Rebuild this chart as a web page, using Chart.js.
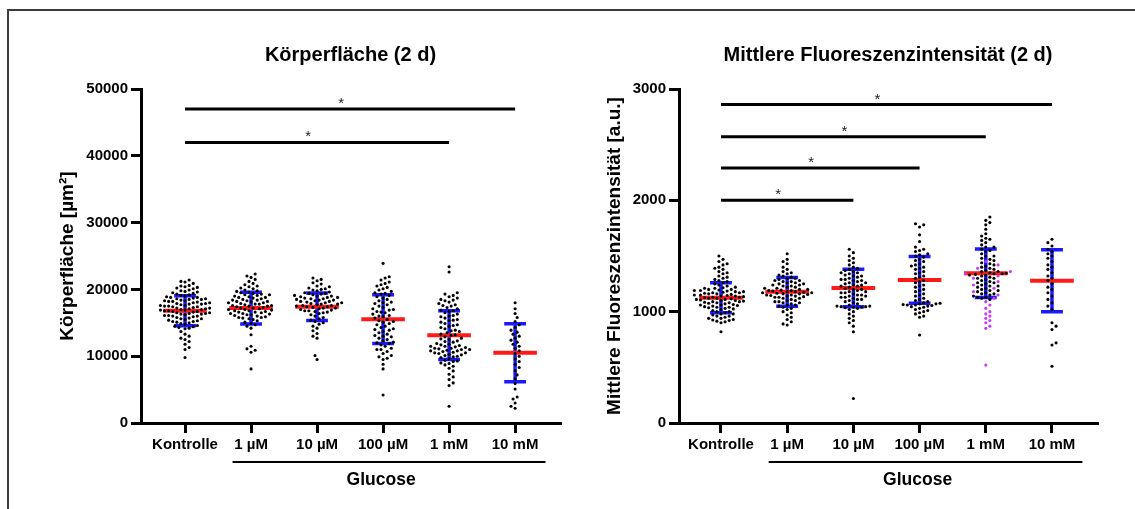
<!DOCTYPE html>
<html>
<head>
<meta charset="utf-8">
<title>Körperfläche / Fluoreszenz (2 d)</title>
<script src="https://cdn.jsdelivr.net/npm/chart.js"></script>
<style>
  body { margin: 0; background: #fff; width: 1135px; height: 509px; overflow: hidden; position: relative; }
  .frame { position: absolute; left: 7px; top: 9px; width: 1300px; height: 700px;
           border-top: 2px solid #3c3c3c; border-left: 2px solid #3c3c3c; }
  canvas { position: absolute; top: 0; }
</style>
</head>
<body>
<div class="frame"></div>
<canvas id="left" width="567" height="509" style="left:0"></canvas>
<canvas id="right" width="568" height="509" style="left:567px"></canvas>
<script>
// categories
const groups = ['Kontrolle', '1 µM', '10 µM', '100 µM', '1 mM', '10 mM'];

// Körperfläche [µm²], single animals per group
const area0 = [21400, 21200, 21100, 20900, 20600, 20500, 20400, 20300, 20200, 20100,
  19900, 19800, 19700, 19600, 19500, 19400, 19300, 19200, 19100, 19000,
  18900, 18800, 18800, 18700, 18600, 18500, 18500, 18400, 18300, 18200, 18200, 18100, 18000, 18000,
  17900, 17800, 17800, 17700, 17600, 17600, 17500, 17400, 17400, 17300, 17200, 17200, 17100, 17000, 17000,
  16900, 16900, 16800, 16700, 16700, 16600, 16500, 16500, 16400, 16300, 16300, 16200, 16100, 16100, 16000,
  15900, 15800, 15700, 15600, 15500, 15400, 15300, 15200, 15100, 15000,
  14900, 14800, 14600, 14500, 14400, 14300, 14200, 14100,
  13700, 13300, 13000, 12700, 12500, 12200, 11800, 11300, 11000, 9800,
  18600, 18300, 17900, 17500, 17100, 16800, 16400, 16000, 15600, 15200];
const area1 = [22300, 22000, 21800, 21500, 21200, 20900, 20700, 20500, 20400, 20200, 20100,
  19900, 19800, 19700, 19600, 19500, 19400, 19300, 19200, 19100, 19000,
  18900, 18800, 18700, 18600, 18500, 18400, 18300, 18200, 18100, 18000,
  17900, 17800, 17700, 17600, 17500, 17400, 17300, 17200, 17100, 17000,
  16900, 16800, 16700, 16600, 16500, 16400, 16300, 16200, 16100, 16000,
  15900, 15800, 15700, 15600, 15500, 15300, 15100, 14900, 14700, 14500,
  14200, 13200, 11500, 11100, 10900, 10600, 8100,
  18800, 18400, 18000, 17800, 17500, 17200, 17000, 16800, 16600, 16400, 16200, 15800, 17600, 18200, 19200];
const area2 = [21700, 21500, 21300, 21000, 20800, 20500, 20400, 20200, 20100, 20000,
  19900, 19800, 19600, 19500, 19400, 19300, 19200, 19100, 19000,
  18900, 18800, 18700, 18600, 18500, 18400, 18300, 18200, 18100, 18000, 18000,
  17900, 17800, 17700, 17600, 17500, 17400, 17300, 17200, 17100, 17000,
  16900, 16800, 16700, 16600, 16500, 16400, 16200, 16000,
  15800, 15600, 15400, 15200, 15000, 14800, 14500, 14200, 13800, 13400, 13000, 12700,
  10100, 9500,
  18800, 18600, 18400, 18200, 17800, 17600, 17400, 17200, 16800, 19000, 19400];
const area3 = [23900, 21900, 21700, 21400, 21100, 20900, 20700, 20500, 20300, 20100,
  19900, 19700, 19500, 19300, 19100, 18900, 18700, 18500, 18300, 18100,
  17900, 17700, 17500, 17300, 17100, 16900, 16700, 16500, 16300, 16100,
  15900, 15700, 15500, 15300, 15100, 14900, 14700, 14500, 14300, 14100,
  13900, 13700, 13500, 13300, 13100, 12900, 12700, 12500, 12300, 12100,
  11900, 11700, 11500, 11200, 11000, 10700, 10400, 10100, 9900, 9700,
  9500, 8800, 8100, 4200,
  19400, 18000, 17000, 16000, 15200, 14000, 13000, 12000, 11000, 16600];
const area4 = [23400, 22600, 19500, 19300, 19100, 18900, 18700, 18500, 18300, 18100,
  17900, 17700, 17500, 17300, 17100, 16900, 16700, 16500, 16300, 16100,
  15900, 15700, 15500, 15300, 15100, 14900, 14700, 14500, 14300, 14100,
  13900, 13700, 13500, 13300, 13100, 12900, 12700, 12500, 12300, 12100,
  11900, 11800, 11700, 11600, 11500, 11400, 11300, 11200, 11100, 11000,
  10900, 10800, 10700, 10600, 10500, 10400, 10300, 10200, 10100, 10000,
  9800, 9600, 9400, 9200, 9000, 8900, 8700, 8500, 8200, 7800,
  7300, 6900, 6500, 6000, 5600, 2500,
  18400, 17600, 16800, 16000, 15400, 14600, 13800, 13200, 12600, 12200, 11500, 11200, 11000, 10800, 10500, 9900, 9300];
const area5 = [18000, 17100, 16400, 15800, 15200, 14700, 14300, 13900, 13600, 13300, 13000, 12700,
  12400, 12100, 11800, 11500, 11200, 10800, 10400, 10000, 9600, 9200, 8800, 8300, 7800, 7200,
  6600, 5900, 5100, 3900, 3600, 3000, 2500, 2200];
const areaMean = [16800, 17200, 17400, 15550, 13150, 10500];
const areaSD = [2250, 2370, 2050, 3650, 3660, 4340];
const areaTicks = [0, 10000, 20000, 30000, 40000, 50000];
// significance bars: [from group, to group, height]
const areaSig = [[0, 5, 47000], [0, 4, 42000]];

// Mittlere Fluoreszenzintensität [a.u.]
const fluo0 = [1500, 1470, 1450, 1430, 1420, 1400, 1390, 1380, 1360, 1350, 1340, 1320, 1310, 1300,
  1290, 1280, 1270, 1260, 1250, 1240, 1230, 1220, 1215, 1210, 1200, 1195, 1190, 1185, 1180, 1175,
  1170, 1165, 1160, 1155, 1150, 1145, 1140, 1135, 1130, 1125, 1120, 1115, 1110, 1105, 1100, 1095,
  1090, 1085, 1080, 1075, 1070, 1065, 1060, 1055, 1050, 1045, 1040, 1035, 1030, 1025, 1020, 1010,
  1000, 990, 980, 970, 960, 950, 940, 930, 920, 910, 900, 820,
  1200, 1180, 1160, 1140, 1130, 1120, 1110, 1100, 1090, 1080, 1060, 1040, 1150, 1170, 1190, 1210,
  1000, 980, 960, 940, 925, 915];
const fluo1 = [1520, 1470, 1450, 1430, 1400, 1380, 1360, 1350, 1340, 1330, 1320, 1310, 1300,
  1290, 1280, 1270, 1260, 1250, 1240, 1230, 1220, 1210, 1200, 1195, 1190, 1185, 1180, 1175, 1170,
  1165, 1160, 1155, 1150, 1145, 1140, 1135, 1130, 1120, 1110, 1100, 1090, 1080, 1070, 1060, 1050,
  1040, 1030, 1020, 1000, 990, 970, 950, 930, 910, 890, 880,
  1300, 1280, 1260, 1240, 1220, 1200, 1180, 1160, 1140, 1120, 1100, 1080, 1060, 1250, 1150, 1190,
  1210, 1230, 1170, 1130, 1270, 1090];
const fluo2 = [1560, 1530, 1500, 1480, 1460, 1440, 1420, 1400, 1390, 1380, 1370, 1360, 1350, 1340,
  1330, 1320, 1310, 1300, 1290, 1280, 1270, 1260, 1250, 1240, 1230, 1220, 1210, 1200, 1190, 1180,
  1170, 1160, 1150, 1140, 1130, 1120, 1110, 1100, 1090, 1080, 1070, 1060, 1050, 1045, 1040, 1040,
  1030, 1020, 1000, 980, 960, 940, 920, 900, 870, 820, 220,
  1350, 1320, 1290, 1260, 1230, 1200, 1170, 1150, 1130, 1110, 1280, 1240, 1180, 1140, 1050, 1045, 1035];
const fluo3 = [1790, 1780, 1760, 1690, 1630, 1580, 1560, 1540, 1520, 1500, 1490, 1470, 1450, 1430,
  1410, 1400, 1380, 1360, 1340, 1320, 1300, 1280, 1260, 1240, 1220, 1200, 1180, 1160, 1140, 1120,
  1100, 1090, 1080, 1070, 1065, 1060, 1055, 1050, 1040, 1020, 1000, 980, 960, 950, 790,
  1550, 1510, 1460, 1420, 1390, 1350, 1310, 1270, 1230, 1190, 1150, 1110, 1075, 1070, 1060, 1045,
  1030, 1010, 990];
const fluo4 = [1850, 1820, 1800, 1780, 1740, 1700, 1680, 1660, 1640, 1620, 1600, 1580, 1560, 1540,
  1520, 1500, 1480, 1460, 1440, 1420, 1400, 1390, 1380, 1370, 1360, 1350, 1345, 1340, 1335, 1330,
  1320, 1310, 1300, 1290, 1280, 1270, 1260, 1250, 1240, 1230, 1220, 1210, 1200, 1190, 1180, 1170,
  1160, 1150, 1140, 1130, 1120, 1110,
  1650, 1580, 1550, 1500, 1470, 1430, 1410, 1360, 1340, 1330, 1300, 1260, 1230, 1190, 1160, 1130];
// 1 mM animals shown in violet
const fluo4Violet = [1450, 1420, 1390, 1360, 1340, 1320, 1300, 1270, 1240, 1210, 1180, 1150, 1120,
  1090, 1060, 1030, 1000, 980, 960, 940, 920, 900, 870, 850, 520];
const fluo5 = [1650, 1620, 1590, 1560, 1540, 1520, 1500, 1480, 1450, 1420, 1400, 1380, 1350, 1320,
  1300, 1280, 1250, 1220, 1200, 1170, 1140, 1110, 1080, 1050, 1020, 900, 870, 840, 720, 700, 510];
const fluoMean = [1125, 1178, 1212, 1285, 1345, 1278];
const fluoSD = [135, 130, 168, 210, 218, 278];
const fluoTicks = [0, 1000, 2000, 3000];
const fluoSig = [[0, 5, 2860], [0, 4, 2570], [0, 3, 2290], [0, 2, 2000]];

const FONT = '"Liberation Sans", Arial, sans-serif';
Chart.defaults.font.family = FONT;

// simple beeswarm: horizontal offsets in px so dots do not overlap
function swarm(vals, unitPx, d) {
  const idx = vals.map((_, i) => i).sort((a, b) => vals[a] - vals[b]);
  const placed = [];
  const out = [];
  let flip = 1;
  for (const i of idx) {
    const py = vals[i] * unitPx;
    const near = placed.filter(p => Math.abs(p[1] - py) < d);
    let x = 0;
    for (let k = 0; k < 200; k++) {
      const c = k === 0 ? 0 : Math.ceil(k / 2) * d * 0.5 * (k % 2 ? flip : -flip);
      if (near.every(p => (p[0] - c) ** 2 + (p[1] - py) ** 2 >= d * d)) { x = c; break; }
    }
    flip = -flip;
    placed.push([x, py]);
    out[i] = x;
  }
  return out;
}

function dotsFor(i, vals, off, xPx) {
  return vals.map((v, j) => ({ x: i + off[j] / xPx, y: v }));
}

function meanLines(means) {
  const pts = [];
  means.forEach((m, i) => {
    pts.push({ x: i - 0.33, y: m }, { x: i + 0.33, y: m }, { x: i, y: null });
  });
  return pts;
}

function sdBars(means, sds) {
  const pts = [];
  const w = 0.165;
  means.forEach((m, i) => {
    const lo = m - sds[i], hi = m + sds[i];
    pts.push({ x: i, y: lo }, { x: i, y: hi }, { x: i, y: null });
    pts.push({ x: i - w, y: hi }, { x: i + w, y: hi }, { x: i, y: null });
    pts.push({ x: i - w, y: lo }, { x: i + w, y: lo }, { x: i, y: null });
  });
  return pts;
}

function sigLines(sig) {
  const pts = [];
  sig.forEach(s => pts.push({ x: s[0], y: s[2] }, { x: s[1], y: s[2] }, { x: s[0], y: null }));
  return pts;
}

// titles, stars and the Glucose bracket
const decor = {
  id: 'decor',
  afterDraw(chart, args, o) {
    const { ctx, chartArea: a, scales: { x, y } } = chart;
    ctx.save();
    ctx.fillStyle = '#000';
    ctx.textAlign = 'center';
    ctx.textBaseline = 'alphabetic';
    ctx.font = 'bold 20px ' + FONT;
    ctx.fillText(o.title, (a.left + a.right) / 2, 61);

    ctx.save();
    ctx.translate(o.yTitleX, (a.top + a.bottom) / 2);
    ctx.rotate(-Math.PI / 2);
    ctx.textBaseline = 'middle';
    ctx.font = 'bold 19px ' + FONT;
    ctx.fillText(o.yTitle, 0, 0);
    ctx.restore();

    ctx.font = '15px ' + FONT;
    ctx.fillStyle = '#222';
    o.sig.forEach(s => {
      const cx = (x.getPixelForValue(s[0]) + x.getPixelForValue(s[1])) / 2 - 9;
      ctx.fillText('*', cx, y.getPixelForValue(s[2]) - 1);
    });

    ctx.strokeStyle = '#000';
    ctx.lineWidth = 2;
    const gy = a.bottom + 39;
    ctx.beginPath();
    ctx.moveTo(x.getPixelForValue(0.72), gy);
    ctx.lineTo(x.getPixelForValue(5.46), gy);
    ctx.stroke();
    ctx.fillStyle = '#000';
    ctx.textBaseline = 'middle';
    ctx.font = 'bold 17.5px ' + FONT;
    ctx.fillText('Glucose', x.getPixelForValue(2.97), a.bottom + 57);
    ctx.restore();
  }
};

function makeChart(id, cfg) {
  const xPx = cfg.plotW / (cfg.xMax - cfg.xMin);
  const unitPx = 334 / cfg.yMax;
  const datasets = [];
  cfg.dots.forEach((vals, i) => {
    const extra = cfg.violet && cfg.violet.group === i ? cfg.violet.vals : [];
    const off = swarm(vals.concat(extra), unitPx, 4.1);
    datasets.push({
      type: 'scatter', data: dotsFor(i, vals, off.slice(0, vals.length), xPx),
      pointRadius: 1.55, pointBorderWidth: 0, pointBackgroundColor: '#000', order: 0
    });
    if (extra.length) {
      datasets.push({
        type: 'scatter', data: dotsFor(i, extra, off.slice(vals.length), xPx),
        pointRadius: 1.55, pointBorderWidth: 0, pointBackgroundColor: '#c83cf0', order: 0
      });
    }
  });
  datasets.push({
    type: 'line', data: meanLines(cfg.mean), borderColor: '#ff1a1a', borderWidth: 4,
    pointRadius: 0, spanGaps: false, order: 1
  });
  datasets.push({
    type: 'line', data: sdBars(cfg.mean, cfg.sd), borderColor: '#1a1aff', borderWidth: 3.5,
    pointRadius: 0, spanGaps: false, order: 2
  });
  datasets.push({
    type: 'line', data: sigLines(cfg.sig), borderColor: '#000', borderWidth: 3,
    pointRadius: 0, spanGaps: false, order: 3
  });

  return new Chart(document.getElementById(id), {
    type: 'scatter',
    data: { datasets },
    options: {
      responsive: false,
      animation: false,
      layout: { padding: { left: 0, top: 89, right: cfg.padRight, bottom: 26 } },
      plugins: {
        legend: { display: false },
        tooltip: { enabled: false },
        decor: { title: cfg.title, yTitle: cfg.yTitle, yTitleX: cfg.yTitleX, sig: cfg.sig }
      },
      scales: {
        x: {
          type: 'linear', min: cfg.xMin, max: cfg.xMax,
          afterFit: s => { s.height = 60; },
          afterBuildTicks: s => { s.ticks = groups.map((g, i) => ({ value: i })); },
          ticks: {
            callback: v => groups[v], color: '#000', padding: 3, maxRotation: 0, autoSkip: false,
            font: { size: 15, weight: 'bold' }
          },
          grid: { display: true, drawOnChartArea: false, drawTicks: true, tickLength: 10,
                  tickWidth: 3, tickColor: '#000', lineWidth: 3, color: '#000' },
          border: { display: true, color: '#000', width: 3 }
        },
        y: {
          type: 'linear', min: 0, max: cfg.yMax,
          afterFit: s => { s.width = cfg.yWidth; },
          afterBuildTicks: s => { s.ticks = cfg.yTicks.map(v => ({ value: v })); },
          ticks: {
            callback: v => String(v), color: '#000', padding: 3,
            font: { size: 15, weight: 'bold' }
          },
          grid: { display: true, drawOnChartArea: false, drawTicks: true, tickLength: 10,
                  tickWidth: 3, tickColor: '#000', lineWidth: 3, color: '#000' },
          border: { display: true, color: '#000', width: 3 }
        }
      }
    },
    plugins: [decor]
  });
}

makeChart('left', {
  title: 'Körperfläche (2 d)', yTitle: 'Körperfläche [µm²]', yTitleX: 68,
  dots: [area0, area1, area2, area3, area4, area5],
  mean: areaMean, sd: areaSD, sig: areaSig, yMax: 50000, yTicks: areaTicks,
  xMin: -0.667, xMax: 5.68, plotW: 419, yWidth: 141, padRight: 7
});

makeChart('right', {
  title: 'Mittlere Fluoreszenzintensität (2 d)', yTitle: 'Mittlere Fluoreszenzintensität [a.u.]', yTitleX: 48,
  dots: [fluo0, fluo1, fluo2, fluo3, fluo4, fluo5],
  violet: { group: 4, vals: fluo4Violet },
  mean: fluoMean, sd: fluoSD, sig: fluoSig, yMax: 3000, yTicks: fluoTicks,
  xMin: -0.634, xMax: 5.68, plotW: 418, yWidth: 112, padRight: 38
});
</script>
</body>
</html>
